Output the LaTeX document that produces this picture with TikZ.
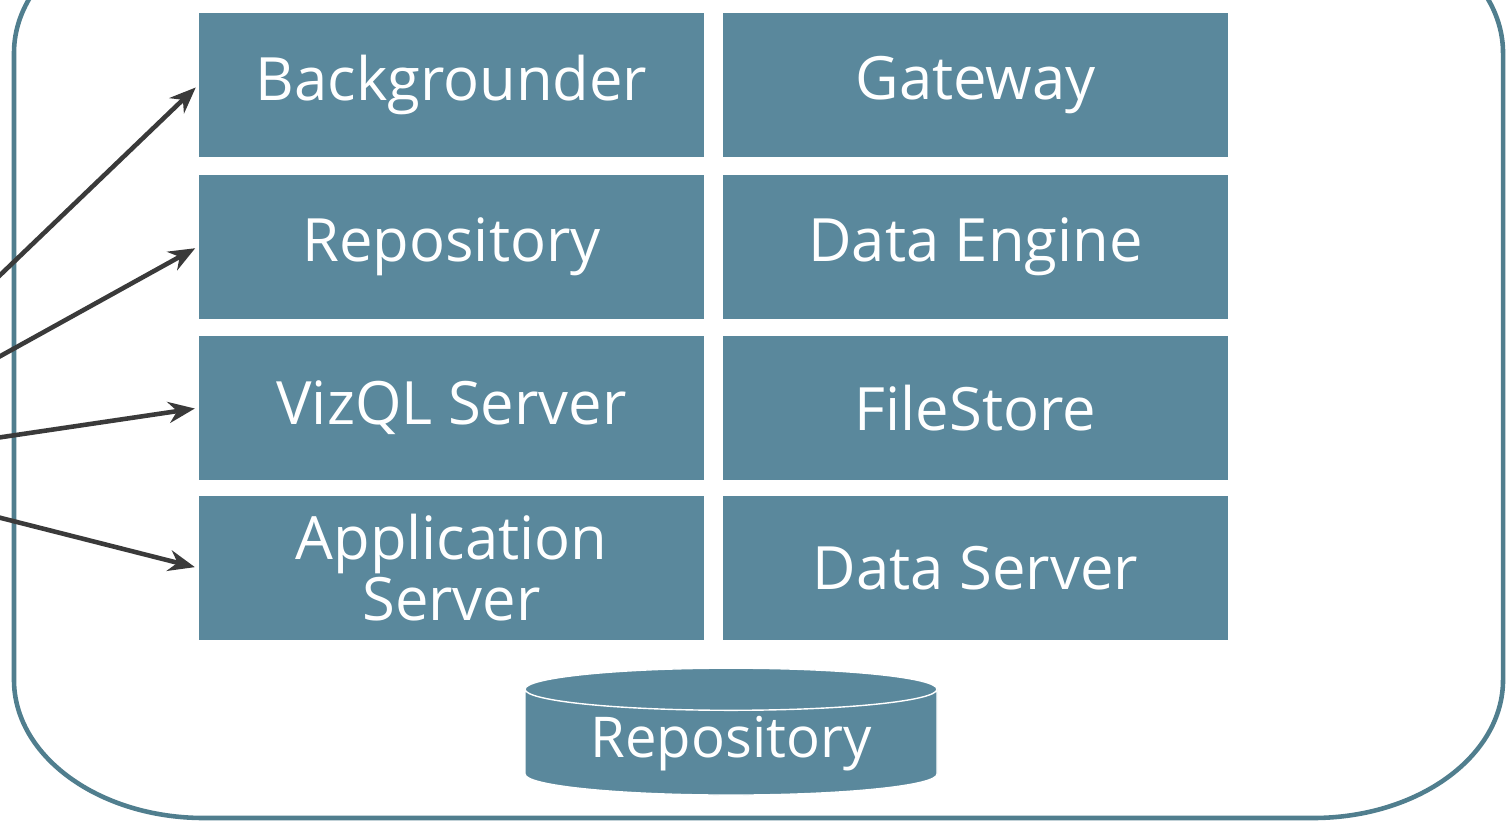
\documentclass[tikz,border=0pt]{standalone}
\usepackage{fontspec}
\setmainfont{Open Sans}
\usetikzlibrary{shapes.geometric,arrows.meta}

\definecolor{boxblue}{RGB}{90,136,156}
\definecolor{frameblue}{RGB}{80,126,142}
\definecolor{arrowgray}{RGB}{58,58,58}

\tikzset{
    svc/.style={shape=rectangle,fill=boxblue,text=white,minimum width=5.05cm,minimum height=1.44cm,
        font=\fontsize{17}{15}\selectfont,align=center,inner sep=0pt},
    link/.style={-{Stealth[length=7.5pt,width=6pt]},draw=arrowgray,line width=1.3pt,shorten >=1pt}
}

\begin{document}
\begin{tikzpicture}
        \useasboundingbox (0,0) rectangle (15.11,8.22);
        \clip (0,0) rectangle (15.11,8.22);

        % server frame
        \draw[frameblue,line width=1.3pt] (2.04,9.07)
            arc[start angle=90,end angle=180,x radius=1.9,y radius=1.38] -- (0.14,1.42)
            arc[start angle=180,end angle=270,x radius=1.9,y radius=1.38] -- (13.13,0.04)
            arc[start angle=270,end angle=360,x radius=1.9,y radius=1.38] -- (15.03,7.69)
            arc[start angle=0,end angle=90,x radius=1.9,y radius=1.38] -- cycle;

        \node[svc] (BG) at (4.515,7.37) {Backgrounder};
        \node[svc] (GW) at (9.755,7.37) {Gateway};
        \node[svc] (RP) at (4.515,5.755) {Repository};
        \node[svc] (DE) at (9.755,5.755) {Data Engine};
        \node[svc] (VQ) at (4.515,4.14) {VizQL Server};
        \node[svc] (FS) at (9.755,4.14) {FileStore};
        \node[svc] (AS) at (4.515,2.54) {Application\\Server};
        \node[svc] (DS) at (9.755,2.54) {Data Server};

        % repository database
        \node[shape=cylinder,shape border rotate=90,aspect=0.15,fill=boxblue,draw=white,thin,
            text=white,font=\fontsize{16}{15}\selectfont,minimum width=4.12cm,
            text height=0.46cm,text depth=0.17cm,inner sep=0pt] (DB) at (7.31,0.795) {Repository};

        \coordinate (SRC) at (-2.0,3.55);
        \path [link](SRC) edge (BG.west);
        \path [link](SRC) edge (RP.west);
        \path [link](SRC) edge (VQ.west);
        \path [link](SRC) edge (AS.west);
    \end{tikzpicture}
\end{document}
